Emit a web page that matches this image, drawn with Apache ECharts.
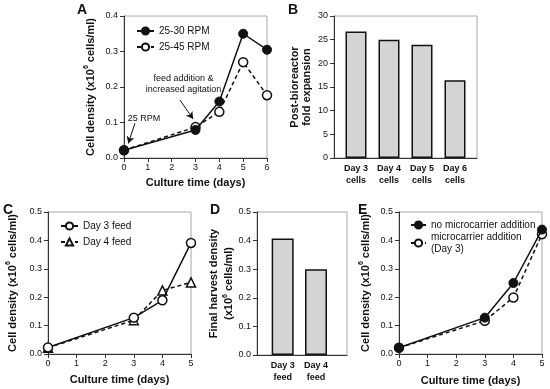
<!DOCTYPE html>
<html>
<head>
<meta charset="utf-8">
<script src="https://cdn.jsdelivr.net/npm/echarts@6/dist/echarts.min.js"></script>
<style>html,body{margin:0;padding:0;background:#fff}#c{width:550px;height:389px}</style>
</head>
<body>
<div id="c"></div>
<script>
// ---- data ----
const daysA = [0, 3, 4, 5, 6];
const rpm2530 = [0.022, 0.079, 0.159, 0.350, 0.305];
const rpm2545 = [0.022, 0.087, 0.130, 0.270, 0.177];
const catsB = ['Day 3\ncells', 'Day 4\ncells', 'Day 5\ncells', 'Day 6\ncells'];
const foldB = [26.7, 25.0, 23.9, 16.4];
const daysC = [0, 3, 4, 5];
const feedDay3 = [0.023, 0.128, 0.189, 0.391];
const feedDay4 = [0.022, 0.119, 0.224, 0.252];
const catsD = ['Day 3\nfeed', 'Day 4\nfeed'];
const harvestD = [0.407, 0.300];
const daysE = [0, 3, 4, 5];
const noMicro = [0.022, 0.128, 0.250, 0.438];
const micro = [0.022, 0.117, 0.199, 0.422];
// annotation anchors (data coords of panel A)
const noteRPM = [0.84, 0.110];
const noteFeed = [2.50, 0.208];
const arrowRPM = [[0.46, 0.098], [0.18, 0.041]];
const arrowFeed = [[2.35, 0.163], [2.90, 0.110]];

const FONT = '"Liberation Sans", Arial, sans-serif';
const INK = '#111';
const pair = (xs, ys) => xs.map((x, i) => [x, ys[i]]);

function grid(l, t, w, h) {
  return {left: l, top: t, width: w, height: h, show: true, borderColor: '#a8a8a8', borderWidth: 1,
    backgroundColor: 'transparent', outerBoundsMode: 'none', containLabel: false};
}
const axisLine = {show: true, onZero: false, lineStyle: {color: '#333', width: 1}};
const tick = {show: true, inside: false, length: 4, lineStyle: {color: '#333'}};
const lbl = {color: INK, fontSize: 9, fontFamily: FONT};
const nameStyleX = {color: INK, fontSize: 11, fontWeight: 'bold', fontFamily: FONT};
const richY = {
  a: {fontSize: 11, fontWeight: 'bold', color: INK, fontFamily: FONT, lineHeight: 15},
  s: {fontSize: 7, fontWeight: 'bold', color: INK, fontFamily: FONT, verticalAlign: 'top', lineHeight: 15, padding: [0, 0, 0, 0]}
};
const densName = '{a|Cell density (x10}{s|6}{a| cells/ml)}';

function xTime(gi, max, gap) {
  return {type: 'value', gridIndex: gi, min: 0, max: max, interval: 1, axisLine: axisLine, axisTick: tick,
    splitLine: {show: false}, axisLabel: Object.assign({margin: 5}, lbl),
    name: 'Culture time (days)', nameLocation: 'middle', nameGap: gap, nameTextStyle: nameStyleX};
}
function yDens(gi, max, gap) {
  return {type: 'value', gridIndex: gi, min: 0, max: max, interval: 0.1, axisLine: axisLine, axisTick: tick,
    splitLine: {show: false}, axisLabel: Object.assign({margin: 6, formatter: v => v.toFixed(1)}, lbl),
    name: densName, nameLocation: 'middle', nameGap: gap, nameTextStyle: {rich: richY}};
}
function xCat(gi, cats, min, max) {
  return {type: 'value', gridIndex: gi, min: min, max: max, axisLine: axisLine, axisTick: {show: false},
    splitLine: {show: false},
    axisLabel: Object.assign({}, lbl, {fontWeight: 'bold', margin: 5, lineHeight: 12,
      customValues: cats.map((c, i) => i), formatter: v => cats[Math.round(v)] || ''})};
}

const filled = {color: INK, borderColor: INK, borderWidth: 1};
const open = {color: '#fff', borderColor: INK, borderWidth: 1.5};
function line(name, gi, data, dashed, symbol, style) {
  return {type: 'line', name: name, xAxisIndex: gi, yAxisIndex: gi, data: data, symbol: symbol, symbolSize: 9,
    showSymbol: true, animation: false, lineStyle: {color: INK, width: 1.5, type: dashed ? [4, 3] : 'solid'},
    itemStyle: style, z: dashed ? 3 : 4};
}
function bars(gi, vals, w) {
  return {type: 'bar', xAxisIndex: gi, yAxisIndex: gi, data: vals.map((v, i) => [i, v]), barWidth: w,
    animation: false, itemStyle: {color: '#d4d4d4', borderColor: INK, borderWidth: 1.5}};
}

const sA1 = line('25-30 RPM', 0, pair(daysA, rpm2530), false, 'circle', filled);
sA1.markLine = {silent: true, symbol: ['none', 'arrow'], symbolSize: [6, 7], animation: false,
  lineStyle: {color: INK, width: 1, type: 'solid'}, label: {show: false},
  data: [[{coord: arrowRPM[0]}, {coord: arrowRPM[1]}], [{coord: arrowFeed[0]}, {coord: arrowFeed[1]}]]};
sA1.markPoint = {silent: true, symbol: 'circle', symbolSize: 0, animation: false,
  label: {show: true, position: 'inside', formatter: '{b}', color: INK, fontSize: 9, fontFamily: FONT, lineHeight: 10.5, align: 'center'},
  data: [{name: '25 RPM', coord: noteRPM}, {name: 'feed addition &\nincreased agitation', coord: noteFeed}]};

const legendBase = {orient: 'vertical', itemWidth: 17, itemHeight: 9, itemGap: 4,
  textStyle: {color: INK, fontSize: 10, fontFamily: FONT, lineHeight: 12}, selectedMode: false};

const option = {
  animation: false,
  backgroundColor: '#fff',
  textStyle: {fontFamily: FONT},
  grid: [grid(124, 16, 143, 142), grid(334, 16, 143, 142), grid(48, 212, 143, 142), grid(257, 212, 90, 143), grid(399, 212, 143, 142)],
  xAxis: [xTime(0, 6, 19), xCat(1, catsB, -0.667, 3.667), xTime(2, 5, 20), xCat(3, catsD, -0.77, 1.93), xTime(4, 5, 21)],
  yAxis: [
    yDens(0, 0.4, 26),
    {type: 'value', gridIndex: 1, min: 0, max: 30, interval: 5, axisLine: axisLine, axisTick: tick, splitLine: {show: false},
      axisLabel: Object.assign({margin: 6}, lbl), name: 'Post-bioreactor\nfold expansion', nameLocation: 'middle', nameGap: 21,
      nameTextStyle: {color: INK, fontSize: 11, fontWeight: 'bold', fontFamily: FONT, lineHeight: 12}},
    yDens(2, 0.5, 28),
    {type: 'value', gridIndex: 3, min: 0, max: 0.5, interval: 0.1, axisLine: axisLine, axisTick: tick, splitLine: {show: false},
      axisLabel: Object.assign({margin: 6, formatter: v => v.toFixed(1)}, lbl),
      name: '{a|Final harvest density}\n{a|(x10}{s|6}{a| cells/ml)}', nameLocation: 'middle', nameGap: 19,
      nameTextStyle: {rich: richY}},
    yDens(4, 0.5, 26)
  ],
  legend: [
    Object.assign({}, legendBase, {left: 131, top: 20, data: ['25-30 RPM', '25-45 RPM']}),
    Object.assign({}, legendBase, {left: 55, top: 215, data: ['Day 3 feed', 'Day 4 feed']}),
    Object.assign({}, legendBase, {left: 405, top: 214, itemWidth: 15, itemGap: 0, data: ['no microcarrier addition', 'microcarrier addition\n(Day 3)']})
  ],
  graphic: [
    {type: 'text', left: 77, top: 3, style: {text: 'A', font: 'bold 14px ' + FONT, fill: INK}},
    {type: 'text', left: 288, top: 3, style: {text: 'B', font: 'bold 14px ' + FONT, fill: INK}},
    {type: 'text', left: 3, top: 203, style: {text: 'C', font: 'bold 14px ' + FONT, fill: INK}},
    {type: 'text', left: 210, top: 203, style: {text: 'D', font: 'bold 14px ' + FONT, fill: INK}},
    {type: 'text', left: 358, top: 203, style: {text: 'E', font: 'bold 14px ' + FONT, fill: INK}}
  ],
  series: [
    sA1,
    line('25-45 RPM', 0, pair(daysA, rpm2545), true, 'circle', open),
    bars(1, foldB, 21),
    line('Day 3 feed', 2, pair(daysC, feedDay3), false, 'circle', open),
    line('Day 4 feed', 2, pair(daysC, feedDay4), true, 'triangle', open),
    bars(3, harvestD, 22),
    line('no microcarrier addition', 4, pair(daysE, noMicro), false, 'circle', filled),
    line('microcarrier addition\n(Day 3)', 4, pair(daysE, micro), true, 'circle', open)
  ]
};
const chart = echarts.init(document.getElementById('c'), null, {renderer: 'canvas'});
chart.setOption(option);
</script>
</body>
</html>
